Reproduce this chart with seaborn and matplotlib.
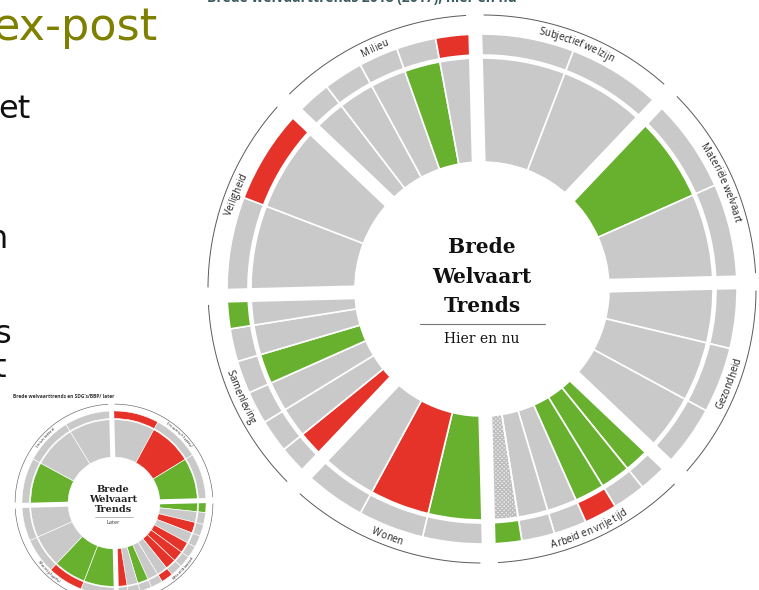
import numpy as np
import matplotlib
matplotlib.use("Agg")
import matplotlib.pyplot as plt
import seaborn as sns

# Brede Welvaart Trends, hier en nu -- themes clockwise from the top
themes_nu = ["Subjectief welzijn", "Materiële welvaart", "Gezondheid",
             "Arbeid en vrije tijd", "Wonen", "Samenleving", "Veiligheid", "Milieu"]
# trend per indicator (clockwise): g = groen, r = rood, o = grijs, h = gearceerd
binnen_nu = ["oo", "go", "ooo", "gggooh", "gro", "roogoo", "oo", "ooogo"]
buiten_nu = ["oo", "oo", "ooo", "ooroog", "ooo", "ooooog", "or", "oooor"]

# small wheel, "Later"
themes_later = ["Economisch kapitaal", "Natuurlijk kapitaal",
                "Menselijk kapitaal", "Sociaal kapitaal"]
binnen_later = ["org", "gororrroogor", "ggoo", "goo"]
buiten_later = ["roo", "gooooooroooo", "oroo", "ooo"]

kleuren = {"g": "#68b12f", "r": "#e5332a", "o": "#c9c9c9", "h": "none"}

sns.set_theme(style="white")
plt.rcParams["font.family"] = ["Open Sans", "DejaVu Sans"]

W, H = 759, 590
fig = plt.figure(figsize=(W / 100, H / 100), dpi=100)
renderer = fig.canvas.get_renderer()


def char_widths(label, size):
    out = []
    for ch in label:
        if ch == " ":
            a = fig.text(0, 0, "x x", fontsize=size)
            b = fig.text(0, 0, "xx", fontsize=size)
            w = a.get_window_extent(renderer).width - b.get_window_extent(renderer).width
            a.remove()
            b.remove()
        else:
            t = fig.text(0, 0, ch, fontsize=size)
            w = t.get_window_extent(renderer).width
            t.remove()
        out.append(w)
    return np.array(out)


def arc_label(ax, label, theta_c, scale, size, offset=1.5):
    w = char_widths(label, size) / scale
    vis = (theta_c - offset) % 360
    upper = vis < 90 or vis > 270
    radius = 261 if upper else 268
    span = np.rad2deg(w.sum() / radius)
    cum = np.cumsum(w) - w / 2
    for ch, c in zip(label, cum):
        d = np.rad2deg(c / radius)
        th = theta_c - span / 2 + d if upper else theta_c + span / 2 - d
        vt = th - offset
        rot = -vt if upper else 180 - vt
        ax.text(np.deg2rad(th), radius, ch, rotation=rot, rotation_mode="anchor",
                ha="center", va="baseline", fontsize=size, color="#222222")


def draw_wheel(cx, cy, scale, themes, binnen, buiten, label_size):
    rmax = 280 * scale
    ax = fig.add_axes([(cx - rmax) / W, (H - cy - rmax) / H, 2 * rmax / W, 2 * rmax / H],
                      projection="polar")
    ax.set_theta_zero_location("N", offset=1.5)
    ax.set_theta_direction(-1)
    ax.axis("off")
    span = 360 / len(themes)
    for k, (bi, bu) in enumerate(zip(binnen, buiten)):
        n = len(bi)
        w = span / n
        th = np.deg2rad(k * span + (np.arange(n) + 0.5) * w)
        for codes, (r0, r1) in [(bi, (127, 231)), (bu, (234, 255))]:
            for t, c in zip(th, codes):
                if c == "h":
                    ax.bar(t, r1 - r0, width=np.deg2rad(w), bottom=r0, color="#ededed",
                           edgecolor="#bdbdbd", linewidth=0, hatch="xxxxxxxx")
            ax.bar(th, r1 - r0, width=np.deg2rad(w), bottom=r0,
                   color=[kleuren[c] for c in codes], edgecolor="white",
                   linewidth=1.2 * scale)
        g = 1.9
        t = np.linspace(k * span + g, (k + 1) * span - g, 80)
        ax.plot(np.deg2rad(t), np.full_like(t, 274), color="#5a5a5a", lw=0.7 * max(scale, 0.6))
    for k in range(len(themes)):
        ax.plot([np.deg2rad(k * span)] * 2, [0, 280], color="white",
                lw=10 * scale, solid_capstyle="butt")
    for k, name in enumerate(themes):
        arc_label(ax, name, k * span + span / 2, scale, label_size)
    ax.set_ylim(0, 280)
    return ax


def px(x, y):
    return x / W, 1 - y / H


# big wheel
draw_wheel(482, 289, 1.0, themes_nu, binnen_nu, buiten_nu, 7)
serif = ["DejaVu Serif"]
for txt, y in [("Brede", 253), ("Welvaart", 283), ("Trends", 312)]:
    fig.text(*px(482, y), txt, ha="center", va="baseline", fontsize=14.5,
             fontweight="bold", family=serif, color="#111111")
fig.add_artist(plt.Line2D([420 / W, 545 / W], [1 - 323.5 / H] * 2, color="#777777", lw=0.8))
fig.text(*px(482, 343), "Hier en nu", ha="center", va="baseline", fontsize=10,
         family=serif, color="#111111")
fig.text(*px(207, 2), "Brede welvaarttrends 2018 (2017), hier en nu", ha="left",
         va="baseline", fontsize=10, fontweight="bold", color="#3b5a5e")

# small wheel
s = 0.361
draw_wheel(114, 503, s, themes_later, binnen_later, buiten_later, 2.5)
for txt, y in [("Brede", 491.5), ("Welvaart", 502.5), ("Trends", 512.5)]:
    fig.text(*px(113, y), txt, ha="center", va="baseline", fontsize=7,
             fontweight="bold", family=serif, color="#222222")
fig.add_artist(plt.Line2D([95 / W, 133 / W], [1 - 516.5 / H] * 2, color="#999999", lw=0.5))
fig.text(*px(113, 524), "Later", ha="center", va="baseline", fontsize=4, color="#333333")
fig.text(*px(13, 398), "Brede welvaarttrends en SDG's/BBP/ later", ha="left",
         va="baseline", fontsize=3.5, fontweight="bold", color="#333333")

# slide text on the left
fig.text(*px(158, 40), "ex-post", ha="right", va="baseline", fontsize=32,
         family=["DejaVu Sans"], color="#808000")
for txt, x, y in [("et", 31, 118), ("n", 7, 248), ("s", 11, 343), ("t", 6, 377)]:
    fig.text(*px(x, y), txt, ha="right", va="baseline", fontsize=23,
             family=["DejaVu Sans"], color="#111111")

fig.savefig("out.png", dpi=100, facecolor="white")
